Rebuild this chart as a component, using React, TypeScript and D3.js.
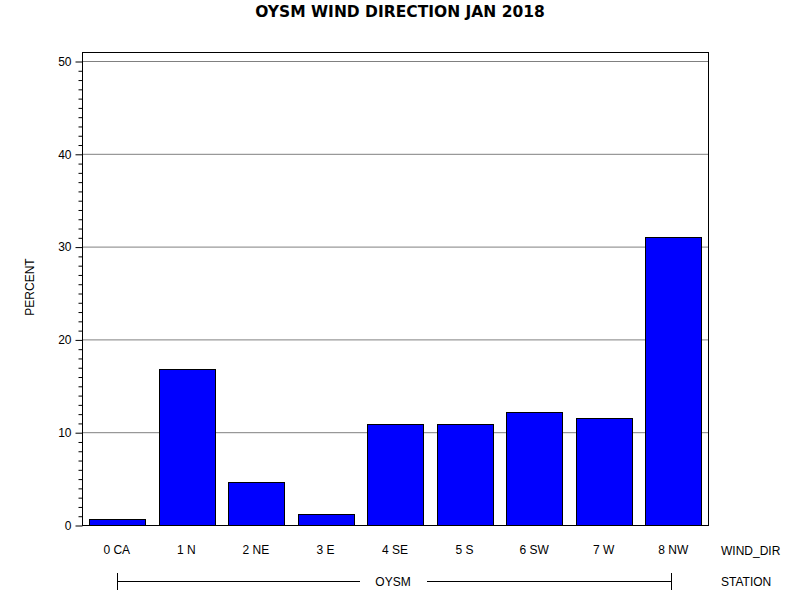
import React, { useEffect, useRef } from 'react';
import * as d3 from 'd3';

const categories = ['0 CA', '1 N', '2 NE', '3 E', '4 SE', '5 S', '6 SW', '7 W', '8 NW'];
const percents = [0.6, 16.8, 4.6, 1.2, 10.9, 10.9, 12.2, 11.5, 31.0];
const yTicks = [0, 10, 20, 30, 40, 50];
const station = 'OYSM';
const title = 'OYSM WIND DIRECTION JAN 2018';

const WindChart: React.FC = () => {
  const svgRef = useRef<SVGSVGElement>(null);

  useEffect(() => {
    if (!svgRef.current) return;

    const width = 800;
    const height = 600;
    const left = 82;
    const right = 708;
    const top = 52;
    const bottom = 525;
    const font = 'Liberation Sans, Arial, sans-serif';

    const svg = d3.select(svgRef.current);
    svg.selectAll('*').remove();
    svg.attr('width', width).attr('height', height).attr('viewBox', `0 0 ${width} ${height}`);

    svg.append('rect').attr('width', width).attr('height', height).attr('fill', '#fff');

    const x = d3.scaleBand<string>()
      .domain(categories)
      .range([left, right])
      .paddingInner(0.2)
      .paddingOuter(0.1);

    // 50 sits a little below the frame top
    const y = d3.scaleLinear().domain([0, 50]).range([bottom, 61]);

    // grid lines at the major ticks
    svg.append('g')
      .selectAll('line')
      .data(yTicks.filter((t) => t > 0))
      .join('line')
      .attr('x1', left)
      .attr('x2', right)
      .attr('y1', (d) => y(d) + 0.5)
      .attr('y2', (d) => y(d) + 0.5)
      .attr('stroke', '#808080')
      .attr('stroke-width', 1);

    // bars
    svg.append('g')
      .selectAll('rect')
      .data(percents)
      .join('rect')
      .attr('x', (_, i) => Math.round(x(categories[i])!) + 0.5)
      .attr('y', (d) => Math.round(y(d)) + 0.5)
      .attr('width', Math.round(x.bandwidth()))
      .attr('height', (d) => Math.round(bottom - y(d)))
      .attr('fill', '#0000ff')
      .attr('stroke', '#000')
      .attr('stroke-width', 1);

    // frame
    svg.append('rect')
      .attr('x', left + 0.5)
      .attr('y', top + 0.5)
      .attr('width', right - left)
      .attr('height', bottom - top)
      .attr('fill', 'none')
      .attr('stroke', '#000')
      .attr('stroke-width', 1);

    // left axis: majors every 10, minors every 1
    const yAxis = d3.axisLeft(y)
      .tickValues(yTicks)
      .tickFormat(d3.format('d'))
      .tickSize(7)
      .tickPadding(4);
    const axisG = svg.append('g')
      .attr('transform', `translate(${left + 0.5},0.5)`)
      .call(yAxis);
    axisG.select('.domain').remove();
    axisG.selectAll('text').attr('font-family', font).attr('font-size', 12).attr('fill', '#000');
    axisG.selectAll('line').attr('stroke', '#000');

    const minorAxis = d3.axisLeft(y)
      .tickValues(d3.range(0, 51).filter((v) => v % 10 !== 0))
      .tickFormat(() => '')
      .tickSize(4);
    const minorG = svg.append('g')
      .attr('transform', `translate(${left + 0.5},0.5)`)
      .call(minorAxis);
    minorG.select('.domain').remove();
    minorG.selectAll('line').attr('stroke', '#000');

    // category labels
    svg.append('g')
      .selectAll('text')
      .data(categories)
      .join('text')
      .attr('x', (d) => x(d)! + x.bandwidth() / 2)
      .attr('y', 554)
      .attr('text-anchor', 'middle')
      .attr('font-family', font)
      .attr('font-size', 12)
      .text((d) => d);

    svg.append('text')
      .attr('x', 721)
      .attr('y', 555)
      .attr('font-family', font)
      .attr('font-size', 12)
      .text('WIND_DIR');

    // station bracket
    const x0 = Math.round(x(categories[0])! + x.bandwidth() / 2);
    const x1 = Math.round(x(categories[categories.length - 1])! + x.bandwidth() / 2) - 2;
    const mid = (left + right) / 2 - 2;
    const by = 581.5;
    const bracket = svg.append('g').attr('stroke', '#000').attr('stroke-width', 1);
    bracket.append('line').attr('x1', x0 + 0.5).attr('x2', x0 + 0.5).attr('y1', 573).attr('y2', 590);
    bracket.append('line').attr('x1', x1 + 0.5).attr('x2', x1 + 0.5).attr('y1', 573).attr('y2', 590);
    bracket.append('line').attr('x1', x0).attr('x2', mid - 33).attr('y1', by).attr('y2', by);
    bracket.append('line').attr('x1', mid + 34).attr('x2', x1).attr('y1', by).attr('y2', by);

    svg.append('text')
      .attr('x', mid)
      .attr('y', 586)
      .attr('text-anchor', 'middle')
      .attr('font-family', font)
      .attr('font-size', 12)
      .text(station);

    svg.append('text')
      .attr('x', 721)
      .attr('y', 586)
      .attr('font-family', font)
      .attr('font-size', 12)
      .text('STATION');

    // y label
    svg.append('text')
      .attr('transform', 'translate(34,287) rotate(-90)')
      .attr('text-anchor', 'middle')
      .attr('font-family', font)
      .attr('font-size', 12)
      .text('PERCENT');

    // title
    svg.append('text')
      .attr('x', 400)
      .attr('y', 17)
      .attr('text-anchor', 'middle')
      .attr('font-family', 'DejaVu Sans, sans-serif')
      .attr('font-size', 15.5)
      .attr('font-weight', 'bold')
      .text(title);
  }, []);

  return <svg ref={svgRef} style={{ position: 'absolute', left: 0, top: 0, display: 'block' }} />;
};

export default function App() {
  return <WindChart />;
}
